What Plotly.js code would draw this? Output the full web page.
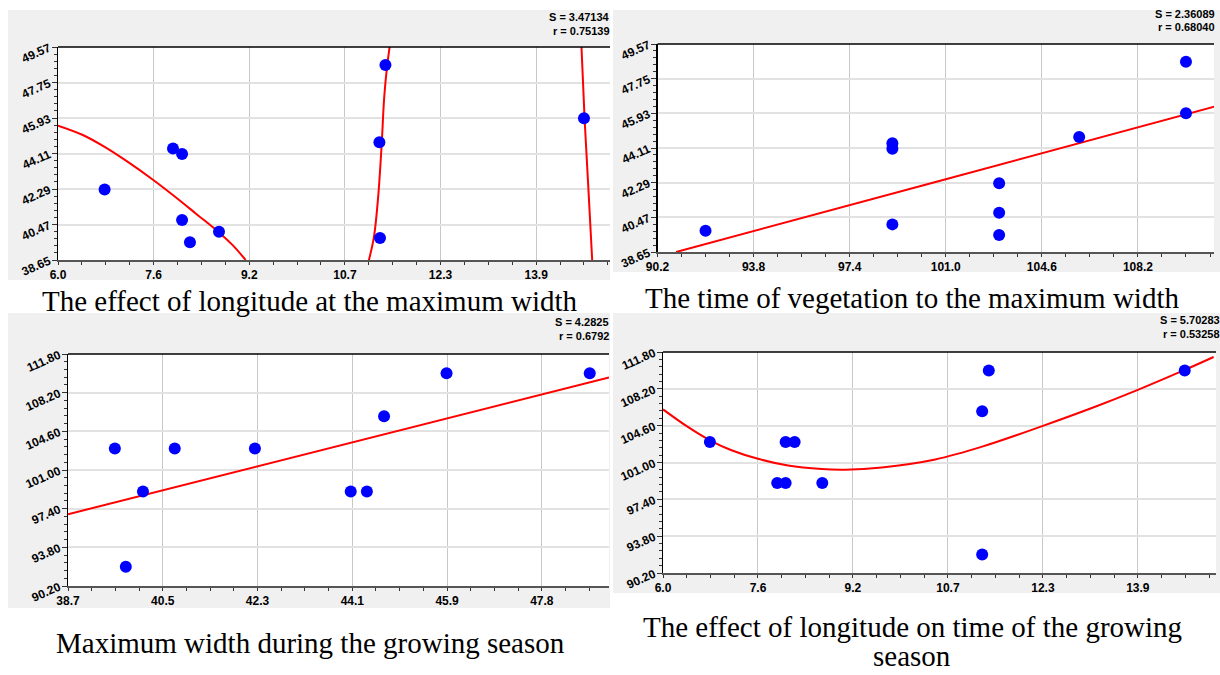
<!DOCTYPE html>
<html>
<head>
<meta charset="utf-8">
<script src="https://cdn.plot.ly/plotly-3.0.1.min.js"></script>
<style>
html,body{margin:0;padding:0;background:#fff;}
#chart{width:1220px;height:675px;}
</style>
</head>
<body>
<div id="chart"></div>
<script>
// ---------- Data ----------
// Panel 1: longitude vs maximum width
const p1Lon   = [6.77, 7.90, 8.05, 8.05, 8.18, 8.66, 11.31, 11.41, 11.32, 14.69];
const p1Width = [42.26, 44.37, 44.08, 40.70, 39.56, 40.10, 44.69, 48.65, 39.78, 45.92];
const p1FitX  = [6.0, 6.41, 6.77, 7.13, 7.58, 7.96, 8.29, 8.67, 8.89, 9.10, null,
                 11.13, 11.22, 11.29, 11.35, 11.39, 11.44, 11.50, null,
                 14.64, 14.70, 14.77, 14.83];
const p1FitY  = [45.54, 45.06, 44.45, 43.73, 42.74, 41.83, 41.00, 40.04, 39.40, 38.65, null,
                 38.56, 39.84, 41.90, 44.72, 47.02, 48.65, 50.02, null,
                 50.19, 45.92, 41.90, 38.39];

// Panel 2: time of vegetation vs maximum width
const p2Time  = [92, 99, 99, 99, 103, 103, 103, 106, 110, 110];
const p2Width = [39.77, 44.36, 44.07, 40.10, 42.26, 40.71, 39.54, 44.69, 48.64, 45.93];
const p2FitX  = [90.9, 101.0, 111.06];
const p2FitY  = [38.65, 42.47, 46.28];

// Panel 3: maximum width vs growing season time
const p3Width = [39.55, 39.76, 40.09, 40.70, 42.24, 44.08, 44.39, 44.72, 45.92, 48.67];
const p3Time  = [103, 92, 99, 103, 103, 99, 99, 106, 110, 110];
const p3FitX  = [38.65, 49.04];
const p3FitY  = [96.88, 109.62];

// Panel 4: longitude vs growing season time
const p4Lon   = [6.78, 7.90, 8.04, 8.04, 8.19, 8.65, 11.31, 11.42, 11.31, 14.68];
const p4Time  = [103, 99, 99, 103, 103, 99, 106, 110, 92, 110];
const p4FitX  = [6.0, 6.42, 6.78, 7.14, 7.58, 8.08, 8.64, 9.03, 9.64, 10.53, 11.31, 12.32, 13.20, 13.90, 14.68, 15.16];
const p4FitY  = [106.19, 104.45, 103.17, 102.20, 101.36, 100.70, 100.36, 100.30, 100.52, 101.30, 102.55, 104.58, 106.47, 108.10, 110.05, 111.31];

// Tick values and labels
const lonTickVals   = [6.0, 7.58, 9.16, 10.74, 12.32, 13.90];
const lonTickText   = ['6.0', '7.6', '9.2', '10.7', '12.3', '13.9'];
const widthTickVals = [38.65, 40.47, 42.29, 44.11, 45.93, 47.75, 49.57];
const widthTickText = ['38.65', '40.47', '42.29', '44.11', '45.93', '47.75', '49.57'];
const widthXTickText = ['38.7', '40.5', '42.3', '44.1', '45.9', '47.8', ''];
const timeTickVals  = [90.2, 93.8, 97.4, 101.0, 104.6, 108.2, 111.8];
const timeTickText  = ['90.20', '93.80', '97.40', '101.00', '104.60', '108.20', '111.80'];
const timeXTickText = ['90.2', '93.8', '97.4', '101.0', '104.6', '108.2', ''];

// Captions (each panel: list of lines) and statistics
const captions = [
  ['The effect of longitude at the maximum width'],
  ['The time of vegetation to the maximum width'],
  ['Maximum width during the growing season'],
  ['The effect of longitude on time of the growing', 'season']
];
const statsS = ['S = 3.47134', 'S = 2.36089', 'S = 4.2825', 'S = 5.70283'];
const statsR = ['r = 0.75139', 'r = 0.68040', 'r = 0.6792', 'r = 0.53258'];

// ---------- Layout helpers ----------
const W = 1220, H = 675;
const px = v => v / W;
const py = v => 1 - v / H;

const tickFont = {family: 'Liberation Sans, Arial, sans-serif', size: 12, color: '#000', weight: 'bold'};

function xAxis(domain, range, vals, text, minorD, anchor) {
  return {
    domain: domain, range: range, anchor: anchor,
    tickmode: 'array', tickvals: vals, ticktext: text,
    ticks: 'outside', ticklen: 3, tickcolor: '#333', tickwidth: 1,
    showline: true, linecolor: '#555', linewidth: 1.5,
    showgrid: true, gridcolor: '#c8c8c8', gridwidth: 1,
    zeroline: false, tickfont: tickFont, fixedrange: true,
    minor: {tickmode: 'linear', tick0: vals[0], dtick: minorD, ticks: 'outside', ticklen: 3, tickcolor: '#333', showgrid: false}
  };
}
function yAxis(domain, range, vals, text, minorD, anchor) {
  return {
    domain: domain, range: range, anchor: anchor,
    tickmode: 'array', tickvals: vals, ticktext: text, tickangle: -24,
    ticks: 'outside', ticklen: 5, tickcolor: '#333', tickwidth: 1,
    showline: true, linecolor: '#000', linewidth: 1.5,
    showgrid: true, gridcolor: '#e2e2e2', gridwidth: 2,
    zeroline: false, tickfont: tickFont, fixedrange: true,
    minor: {tickmode: 'linear', tick0: vals[0], dtick: minorD, ticks: 'outside', ticklen: 3, tickcolor: '#333', showgrid: false}
  };
}

const marker = {color: '#0000ff', size: 12, symbol: 'circle', line: {width: 0}};
const fitLine = {color: '#ff0000', width: 2, shape: 'spline', smoothing: 1};

const data = [
  {x: p1FitX, y: p1FitY, xaxis: 'x', yaxis: 'y', mode: 'lines', line: fitLine, connectgaps: false, hoverinfo: 'skip'},
  {x: p1Lon, y: p1Width, xaxis: 'x', yaxis: 'y', mode: 'markers', marker: marker},
  {x: p2FitX, y: p2FitY, xaxis: 'x2', yaxis: 'y2', mode: 'lines', line: fitLine, hoverinfo: 'skip'},
  {x: p2Time, y: p2Width, xaxis: 'x2', yaxis: 'y2', mode: 'markers', marker: marker},
  {x: p3FitX, y: p3FitY, xaxis: 'x3', yaxis: 'y3', mode: 'lines', line: fitLine, hoverinfo: 'skip'},
  {x: p3Width, y: p3Time, xaxis: 'x3', yaxis: 'y3', mode: 'markers', marker: marker},
  {x: p4FitX, y: p4FitY, xaxis: 'x4', yaxis: 'y4', mode: 'lines', line: fitLine, hoverinfo: 'skip'},
  {x: p4Lon, y: p4Time, xaxis: 'x4', yaxis: 'y4', mode: 'markers', marker: marker}
];

// Panel geometry (pixels)
const panels = [
  {bg: [8, 10, 610, 280],    plot: [58, 47, 610, 260],     capX: 310, capY: [301],      sx: 612,  sy: [17, 31]},
  {bg: [613, 10, 1220, 272], plot: [657.5, 44, 1214, 252], capX: 912, capY: [298],      sx: 1217, sy: [14, 27]},
  {bg: [8, 313, 610, 608],   plot: [68, 354, 609, 586],    capX: 310, capY: [643],      sx: 611,  sy: [322, 336]},
  {bg: [613, 313, 1220, 593], plot: [663, 352, 1216, 573], capX: 912, capY: [627, 655.5], sx: 1222, sy: [320, 334]}
];
const dom = p => ({x: [px(p.plot[0]), px(p.plot[2])], y: [py(p.plot[3]), py(p.plot[1])]});
const d1 = dom(panels[0]), d2 = dom(panels[1]), d3 = dom(panels[2]), d4 = dom(panels[3]);

const shapes = [];
panels.forEach(p => {
  shapes.push({type: 'rect', xref: 'paper', yref: 'paper', x0: px(p.bg[0]), x1: px(p.bg[2]), y0: py(p.bg[3]), y1: py(p.bg[1]),
               fillcolor: '#f0f0f0', line: {width: 0}, layer: 'below'});
});
['', '2', '3', '4'].forEach(s => {
  shapes.push({type: 'rect', xref: 'x' + s + ' domain', yref: 'y' + s + ' domain', x0: 0, x1: 1, y0: 0, y1: 1,
               fillcolor: '#ffffff', line: {width: 0}, layer: 'below'});
  shapes.push({type: 'line', xref: 'x' + s + ' domain', yref: 'y' + s + ' domain', x0: 0, x1: 1, y0: 1, y1: 1,
               line: {color: '#000', width: 1.5}, layer: 'above'});
});

const annotations = [];
const statFont = {family: 'Liberation Sans, Arial, sans-serif', size: 11, color: '#000', weight: 'bold'};
panels.forEach((p, i) => {
  captions[i].forEach((line, j) => {
    annotations.push({xref: 'paper', yref: 'paper', x: px(p.capX), y: py(p.capY[j]), xanchor: 'center', yanchor: 'middle',
                      text: line, showarrow: false,
                      font: {family: 'Liberation Serif, Times New Roman, serif', size: 29, color: '#000'}});
  });
  annotations.push({xref: 'paper', yref: 'paper', x: px(p.sx), y: py(p.sy[0]), xanchor: 'right', yanchor: 'middle',
                    text: statsS[i], showarrow: false, font: statFont});
  annotations.push({xref: 'paper', yref: 'paper', x: px(p.sx), y: py(p.sy[1]), xanchor: 'right', yanchor: 'middle',
                    text: statsR[i], showarrow: false, font: statFont});
});

const layout = {
  width: W, height: H,
  margin: {l: 0, r: 0, t: 0, b: 0},
  paper_bgcolor: '#ffffff', plot_bgcolor: '#ffffff',
  showlegend: false,
  xaxis:  xAxis(d1.x, [6.0, 15.12], lonTickVals, lonTickText, 0.395, 'y'),
  yaxis:  yAxis(d1.y, [38.65, 49.57], widthTickVals, widthTickText, 0.364, 'x'),
  xaxis2: xAxis(d2.x, [90.2, 111.05], timeTickVals, timeXTickText, 0.9, 'y2'),
  yaxis2: yAxis(d2.y, [38.65, 49.57], widthTickVals, widthTickText, 0.364, 'x2'),
  xaxis3: xAxis(d3.x, [38.65, 49.04], widthTickVals, widthXTickText, 0.455, 'y3'),
  yaxis3: yAxis(d3.y, [90.2, 111.8], timeTickVals, timeTickText, 0.72, 'x3'),
  xaxis4: xAxis(d4.x, [6.0, 15.2], lonTickVals, lonTickText, 0.395, 'y4'),
  yaxis4: yAxis(d4.y, [90.2, 111.8], timeTickVals, timeTickText, 0.72, 'x4'),
  shapes: shapes,
  annotations: annotations
};

Plotly.newPlot('chart', data, layout, {staticPlot: true, displayModeBar: false});
</script>
</body>
</html>
